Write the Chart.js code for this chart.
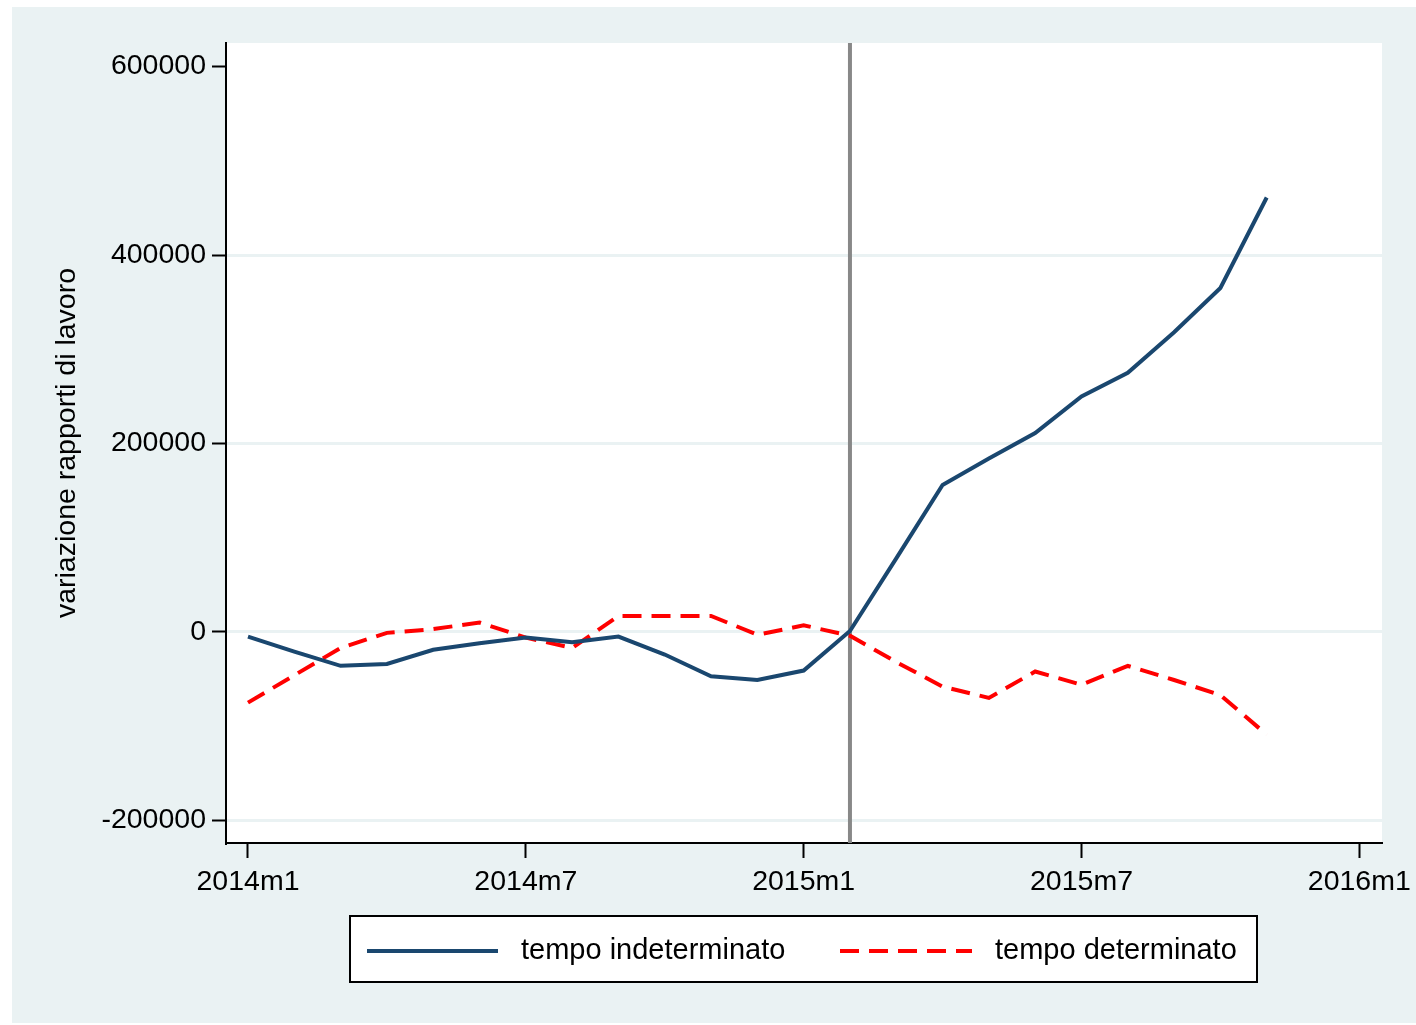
<!DOCTYPE html>
<html>
<head>
<meta charset="utf-8">
<script src="https://cdn.jsdelivr.net/npm/chart.js@4.4.1/dist/chart.umd.min.js"></script>
<style>
  html, body { margin: 0; padding: 0; background: #fff; }
  #wrap { width: 1416px; height: 1025px; position: relative; }
</style>
</head>
<body>
<div id="wrap"><canvas id="chartCanvas"></canvas></div>
<script>
// monthly data, 2014m1 .. 2015m11
const months = [
  "2014m1", "2014m2", "2014m3", "2014m4", "2014m5", "2014m6",
  "2014m7", "2014m8", "2014m9", "2014m10", "2014m11", "2014m12",
  "2015m1", "2015m2", "2015m3", "2015m4", "2015m5", "2015m6",
  "2015m7", "2015m8", "2015m9", "2015m10", "2015m11"
];
const indeterminato = [
  -5000, -21000, -36000, -34000, -19000, -12000,
  -6000, -11000, -5000, -24000, -47000, -51000,
  -41000, 1000, 78000, 156000, 184000, 211000,
  250000, 275000, 318000, 365000, 461000
];
const determinato = [
  -75000, -46000, -17000, -1000, 3000, 10000,
  -6000, -17000, 17000, 17000, 17000, -3000,
  7000, -4000, -32000, -58000, -70000, -42000,
  -56000, -36000, -51000, -67000, -109000
];
const xTickPos = [0, 6, 12, 18, 24];
const xTickLabels = ["2014m1", "2014m7", "2015m1", "2015m7", "2016m1"];
const yTicks = [-200000, 0, 200000, 400000, 600000];
const reformMonth = 13; // 2015m2

const FONT = 'Arial, "Liberation Sans", sans-serif';
const BLUE = "#1a476f";
const RED = "#ff0000";
const BG = "#eaf2f3";

const stataFrame = {
  id: "stataFrame",
  beforeDraw(chart) {
    const { ctx, chartArea } = chart;
    ctx.save();
    ctx.fillStyle = "#fff";
    ctx.fillRect(0, 0, chart.width, chart.height);
    ctx.fillStyle = BG;
    ctx.fillRect(12, 7, chart.width - 12, chart.height - 9);
    ctx.fillStyle = "#fff";
    ctx.fillRect(chartArea.left, chartArea.top, chartArea.right - chartArea.left, chartArea.bottom - chartArea.top);
    ctx.restore();
  },
  beforeDatasetsDraw(chart) {
    const { ctx, chartArea } = chart;
    const x = chart.scales.x.getPixelForValue(reformMonth);
    ctx.save();
    ctx.strokeStyle = "#888888";
    ctx.lineWidth = 4;
    ctx.beginPath();
    ctx.moveTo(x, chartArea.top);
    ctx.lineTo(x, chartArea.bottom);
    ctx.stroke();
    ctx.restore();
  },
  afterDraw(chart) {
    const ctx = chart.ctx;
    const ds = chart.data.datasets;
    ctx.save();
    ctx.fillStyle = "#fff";
    ctx.fillRect(350, 916, 907, 66);
    ctx.strokeStyle = "#000";
    ctx.lineWidth = 2;
    ctx.strokeRect(350, 916, 907, 66);

    const yMid = 951;
    const items = [
      { x0: 367, x1: 498, tx: 521 },
      { x0: 840, x1: 972, tx: 995 }
    ];
    items.forEach((it, i) => {
      ctx.strokeStyle = ds[i].borderColor;
      ctx.lineWidth = ds[i].borderWidth;
      ctx.setLineDash(ds[i].borderDash || []);
      ctx.beginPath();
      ctx.moveTo(it.x0, yMid);
      ctx.lineTo(it.x1, yMid);
      ctx.stroke();
      ctx.setLineDash([]);
      ctx.fillStyle = "#000";
      ctx.font = "29px " + FONT;
      ctx.textBaseline = "middle";
      ctx.textAlign = "left";
      ctx.fillText(ds[i].label, it.tx, yMid);
    });
    ctx.restore();
  }
};

const toPoints = (arr) => arr.map((v, i) => ({ x: i, y: v }));

new Chart(document.getElementById("chartCanvas"), {
  type: "line",
  data: {
    datasets: [
      {
        label: "tempo indeterminato",
        data: toPoints(indeterminato),
        borderColor: BLUE,
        borderWidth: 4,
        pointRadius: 0,
        tension: 0,
        fill: false
      },
      {
        label: "tempo determinato",
        data: toPoints(determinato),
        borderColor: RED,
        borderWidth: 4,
        borderDash: [19, 10],
        pointRadius: 0,
        tension: 0,
        fill: false
      }
    ]
  },
  options: {
    responsive: true,
    maintainAspectRatio: false,
    animation: false,
    layout: { padding: { left: 0, top: 43, right: 34, bottom: 0 } },
    plugins: {
      legend: { display: false },
      tooltip: { enabled: false }
    },
    scales: {
      x: {
        type: "linear",
        min: -0.475,
        max: 24.49,
        afterBuildTicks: (s) => { s.ticks = xTickPos.map((v) => ({ value: v })); },
        afterFit: (s) => {
          s.height = 182;
          s.paddingLeft = 0;
          s.paddingRight = 0;
        },
        grid: { drawOnChartArea: false, tickColor: "#000", tickLength: 15, tickWidth: 2 },
        border: { color: "#000", width: 2 },
        ticks: {
          callback: (v, i) => xTickLabels[i],
          font: { family: FONT, size: 28.5 },
          color: "#000",
          padding: 7,
          maxRotation: 0,
          autoSkip: false
        }
      },
      y: {
        min: -224000,
        max: 625000,
        afterBuildTicks: (s) => { s.ticks = yTicks.map((v) => ({ value: v })); },
        afterFit: (s) => {
          s.width = 226;
          s.paddingTop = 0;
          s.paddingBottom = 0;
        },
        grid: {
          color: (c) => (c.tick && c.tick.value === 600000 ? "rgba(0,0,0,0)" : BG),
          lineWidth: 3,
          tickColor: "#000",
          tickLength: 14,
          tickWidth: 2
        },
        border: { color: "#000", width: 2 },
        ticks: {
          font: { family: FONT, size: 28.5 },
          color: "#000",
          padding: 6,
          callback: (v) => String(v)
        },
        title: {
          display: true,
          text: "variazione rapporti di lavoro",
          font: { family: FONT, size: 28.5 },
          color: "#000",
          padding: { top: 50, bottom: 0 }
        }
      }
    }
  },
  plugins: [stataFrame]
});
</script>
</body>
</html>
